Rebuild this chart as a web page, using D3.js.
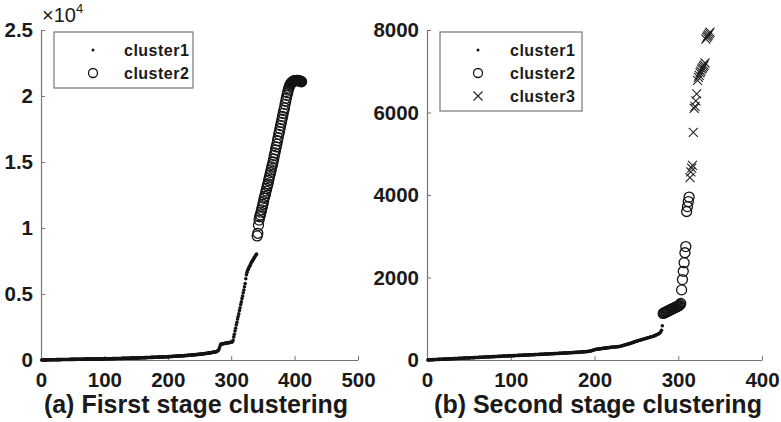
<html>
<head>
	<title>clustering stages</title>
	<style>
		body {
			margin:0;
			padding:0;
			background:#fff;
		}
		svg {
			display:block;
			font-family: "Liberation Sans", Arial, sans-serif;
		}
		.domain {
			stroke:#777;
			stroke-width:1.2;
		}
		.tick line {
			stroke:#777;
		}
		.tick text {
			font-size:20.5px;
			font-weight:bold;
			fill:#1a1a1a;
		}
		.legtext {
			font-size:16px;
			font-weight:bold;
			fill:#1a1a1a;
			letter-spacing:0.5px;
		}
		.title {
			font-size:25px;
			font-weight:bold;
			fill:#1a1a1a;
		}
	</style>
</head>
<body>

<svg width="781" height="422"></svg>

<script src="https://d3js.org/d3.v7.min.js"></script>
<script>

	// (a) first stage: cluster1 = index 1..340, cluster2 = index 341..411
	var aCluster1 = [
		1,2,4,5,6,7,8,9,10,11, 12,13,14,15,16,17,18,19,20,21,
		22,23,24,25,26,27,28,29,29,30, 31,32,33,34,35,35,36,37,38,39,
		40,41,41,42,43,44,45,46,46,47, 48,49,50,51,51,52,53,54,55,56,
		57,57,58,59,60,61,62,62,63,64, 65,66,67,67,68,69,70,71,72,73,
		73,74,74,75,75,76,76,77,77,78, 78,79,80,80,81,82,83,84,85,86,
		87,88,89,91,92,93,94,95,96,98, 99,100,101,102,104,105,106,107,108,110,
		111,112,114,115,116,118,119,120,122,123, 124,126,127,129,130,132,133,135,136,138,
		139,141,142,144,145,147,148,150,151,153, 155,156,158,160,161,163,165,166,168,170,
		172,173,175,177,179,181,183,185,187,188, 190,192,194,196,198,200,202,204,206,208,
		210,212,214,216,218,220,222,224,226,228, 230,232,234,236,238,240,242,244,246,249,
		252,255,258,261,264,267,270,273,276,279, 282,285,288,291,294,297,300,304,307,310,
		313,317,320,324,327,331,334,338,342,345, 349,353,357,361,365,369,373,377,381,386,
		390,395,399,404,409,414,419,424,429,434, 440,445,451,457,463,469,475,481,488,494,
		501,508,515,522,529,537,545,553,561,569, 578,587,596,605,615,625,635,660,700,760,
		850,1000,1150,1200,1210,1220,1230,1240,1250,1260, 1270,1280,1290,1300,1310,1315,1320,1330,1340,1350,
		1360,1380,1500,1750,1950,2200,2400,2650,2850,3100, 3300,3500,3750,3950,4200,4400,4650,4850,5100,5300,
		5550,5800,6150,6450,6650,6800,6900,7000,7100,7200, 7300,7400,7480,7560,7640,7720,7800,7880,7950,8020
	];
	var aCluster2 = [
		9400,9600,10200,10600,10850,11000,11200,11380,11600,11800,
		12000,12250,12400,12600,12800,13000,13200,13350,13600,13800,
		14000,14200,14400,14620,14800,15000,15230,15500,15690,15920,
		16150,16350,16610,16840,17100,17300,17530,17760,18000,18220,
		18450,18680,18910,19100,19370,19600,19830,20050,20250,20450,
		20600,20750,20850,20950,21000,21050,21100,21120,21140,21150,
		21160,21170,21170,21180,21180,21170,21160,21140,21120,21100,21080
	];

	// (b) second stage: cluster1 = 1..281, cluster2 = 282..313, cluster3 = 314..338
	var bCluster1 = [
		1,2,3,4,5,6,8,9,10,11, 12,13,14,15,16,17,18,19,20,21,
		22,23,24,25,26,27,28,29,30,31, 32,33,34,35,36,37,38,39,40,41,
		42,43,44,45,46,47,48,49,50,51, 52,53,54,55,56,57,58,59,60,61,
		62,63,64,65,66,67,68,69,70,71, 72,73,74,75,76,77,78,80,81,82,
		83,84,85,86,87,88,89,90,91,92, 93,94,95,96,97,98,99,100,101,102,
		103,104,105,106,107,108,109,110,111,112, 113,114,115,116,117,118,119,120,121,122,
		123,124,125,126,127,128,129,130,131,132, 133,134,135,136,137,138,139,140,141,142,
		143,144,145,146,147,148,150,151,152,153, 154,155,156,157,158,159,160,161,162,163,
		165,166,167,168,169,170,171,173,174,175, 176,177,179,180,181,182,184,185,186,188,
		189,190,192,193,195,196,198,199,201,203, 205,207,210,213,217,222,228,235,242,250,
		254,257,260,263,266,269,272,275,278,281, 284,287,290,293,295,298,300,303,305,308,
		310,312,314,316,318,320,322,324,326,329, 333,338,344,350,356,362,368,374,380,386,
		392,398,405,412,419,426,433,440,447,454, 460,466,472,478,484,490,496,502,508,514,
		520,526,532,538,544,550,556,562,568,574, 580,590,600,610,620,630,640,655,680,720,830
	];
	var bCluster2 = [
		1130,1140,1150,1160,1170,1180,1190,1200,1210,1220,
		1230,1240,1250,1260,1270,1280,1290,1300,1310,1320,
		1340,1370,1700,1950,2150,2360,2600,2750,3600,3720,3840,3950
	];
	var bCluster3 = [
		4420,4560,4650,4720,5520,6100,6150,6280,6450,6780,6850,6900,6960,
		7000,7050,7080,7120,7150,7200,7780,7820,7850,7880,7920,7950
	];

	var aXTicks = [0,100,200,300,400,500];
	var aYTicks = [0,5000,10000,15000,20000,25000];
	var aYLabels = ["0","0.5","1","1.5","2","2.5"];
	var bXTicks = [0,100,200,300,400];
	var bYTicks = [0,2000,4000,6000,8000];

	var legendNames = ["cluster1","cluster2","cluster3"];

	var ink = "#141414";
	var svg = d3.select("svg");

	// valori -> punti con indice progressivo
	function toPoints(values, start) {
		return values.map(function(v, i) { return {x: start + i, y: v}; });
	}

	function drawPanel(opt) {
		var x = d3.scaleLinear().domain(opt.xDomain).range(opt.xRange);
		var y = d3.scaleLinear().domain(opt.yDomain).range([360, 30]);
		var g = svg.append("g");

		g.append("g")
		.attr("transform", "translate(0,360)")
		.call(d3.axisBottom(x).tickValues(opt.xTicks).tickSizeInner(-4).tickSizeOuter(0).tickPadding(12));

		g.append("g")
		.attr("transform", "translate(" + opt.xRange[0] + ",0)")
		.call(d3.axisLeft(y).tickValues(opt.yTicks).tickSizeInner(-4).tickSizeOuter(0).tickPadding(8)
			.tickFormat(function(d, i) { return opt.yLabels ? opt.yLabels[i] : d; }));

		// cluster1: puntini
		g.append("g")
		.selectAll("circle")
		.data(toPoints(opt.c1, 1))
		.enter()
		.append("circle")
		.attr("cx", function(d) { return x(d.x); })
		.attr("cy", function(d) { return y(d.y); })
		.attr("r", 1.8)
		.style("fill", ink);

		// cluster2: cerchi vuoti
		g.append("g")
		.selectAll("circle")
		.data(toPoints(opt.c2, opt.c1.length + 1))
		.enter()
		.append("circle")
		.attr("cx", function(d) { return x(d.x); })
		.attr("cy", function(d) { return y(d.y); })
		.attr("r", 5)
		.style("fill", "none")
		.style("stroke", ink)
		.style("stroke-width", 1.3);

		// cluster3: croci
		if (opt.c3) {
			g.append("g")
			.selectAll("path")
			.data(toPoints(opt.c3, opt.c1.length + opt.c2.length + 1))
			.enter()
			.append("path")
			.attr("transform", function(d) { return "translate(" + x(d.x) + "," + y(d.y) + ")"; })
			.attr("d", "M-4.5,-4.5L4.5,4.5M4.5,-4.5L-4.5,4.5")
			.style("stroke", "#222")
			.style("stroke-width", 1.1);
		}

		// legenda
		var n = opt.c3 ? 3 : 2;
		var leg = g.append("g").attr("transform", "translate(" + opt.legend[0] + "," + opt.legend[1] + ")");
		leg.append("rect")
		.attr("width", opt.legend[2])
		.attr("height", 10 + n * 23)
		.style("fill", "#fff")
		.style("stroke", "#777")
		.style("stroke-width", 1.2);

		legendNames.slice(0, n).forEach(function(name, i) {
			var cy = 18 + i * 23;
			var mx = opt.legMarkX;
			if (i == 0) {
				leg.append("circle").attr("cx", mx).attr("cy", cy).attr("r", 1.5).style("fill", ink);
			} else if (i == 1) {
				leg.append("circle").attr("cx", mx).attr("cy", cy).attr("r", 4.5)
				.style("fill", "none").style("stroke", ink).style("stroke-width", 1.3);
			} else {
				leg.append("path").attr("transform", "translate(" + mx + "," + cy + ")")
				.attr("d", "M-4.5,-4.5L4.5,4.5M4.5,-4.5L-4.5,4.5")
				.style("stroke", "#222").style("stroke-width", 1.1);
			}
			leg.append("text")
			.attr("class", "legtext")
			.attr("x", opt.legTextX)
			.attr("y", cy + 6)
			.text(name);
		});

		svg.append("text")
		.attr("class", "title")
		.attr("x", opt.titleX)
		.attr("y", 413)
		.attr("text-anchor", "middle")
		.text(opt.title);
	}

	drawPanel({
		xDomain: [0, 500], xRange: [41, 358],
		yDomain: [0, 25000],
		xTicks: aXTicks, yTicks: aYTicks, yLabels: aYLabels,
		c1: aCluster1, c2: aCluster2,
		legend: [54, 32, 139], legMarkX: 39, legTextX: 70,
		titleX: 196, title: "(a) Fisrst stage clustering"
	});

	drawPanel({
		xDomain: [0, 400], xRange: [427, 762],
		yDomain: [0, 8000],
		xTicks: bXTicks, yTicks: bYTicks,
		c1: bCluster1, c2: bCluster2, c3: bCluster3,
		legend: [440, 32, 142], legMarkX: 38, legTextX: 70,
		titleX: 598, title: "(b) Second stage clustering"
	});

	// moltiplicatore asse y del primo grafico
	var mult = svg.append("text")
	.attr("x", 42)
	.attr("y", 22)
	.style("font-size", "20px")
	.style("fill", "#1a1a1a")
	.text("\u00d710");
	mult.append("tspan")
	.attr("dy", -9)
	.style("font-size", "13px")
	.text("4");

</script>
</body>
</html>
